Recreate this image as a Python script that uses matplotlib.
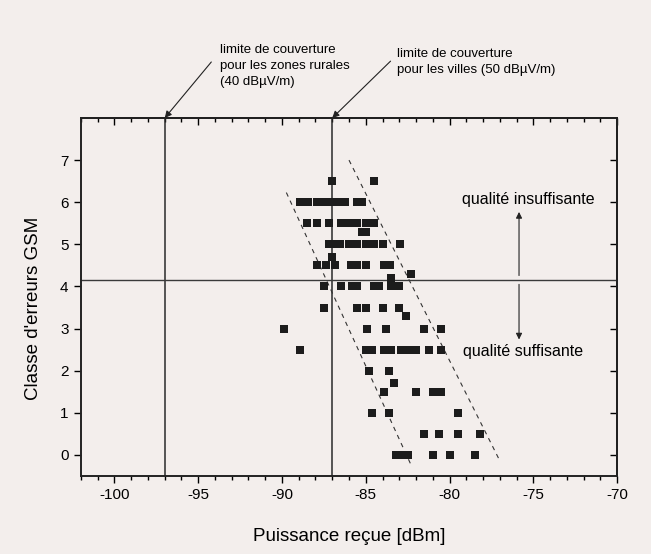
import numpy as np
import matplotlib
matplotlib.use("Agg")
import matplotlib.pyplot as plt
from matplotlib.ticker import MultipleLocator

plt.rcParams['font.family'] = ['Liberation Sans', 'DejaVu Sans']
plt.rcParams['axes.unicode_minus'] = False

# ==========================================
# données (une ligne = une classe d'erreurs)
# ==========================================
row_classe = [6.5, 6.0, 5.5, 5.3, 5.0, 4.7, 4.5, 4.3, 4.2, 4.0, 3.5, 3.3,
              3.0, 2.5, 2.0, 1.7, 1.5, 1.0, 0.5, 0.0]
row_puissance = [
    [-87.0, -84.5],
    [-88.9, -88.45, -87.9, -87.48, -87.06, -86.65, -86.23, -85.5, -85.2],
    [-88.5, -87.9, -87.2, -86.5, -86.0, -85.5, -85.0, -84.5],
    [-85.2, -85.0],
    [-87.2, -86.9, -86.55, -86.0, -85.5, -85.0, -84.5, -84.0, -82.95],
    [-87.0],
    [-87.9, -87.4, -86.85, -85.9, -85.5, -85.0, -83.9, -83.55],
    [-82.3],
    [-83.5],
    [-87.5, -86.5, -85.8, -85.5, -84.5, -84.2, -83.5, -83.0],
    [-87.5, -85.5, -85.0, -84.0, -83.0],
    [-82.6],
    [-89.9, -84.9, -83.8, -81.5, -80.5],
    [-88.9, -85.0, -84.6, -83.9, -83.5, -82.9, -82.5, -82.0, -81.2, -80.5],
    [-84.8, -83.6],
    [-83.3],
    [-83.9, -82.0, -81.0, -80.5],
    [-84.6, -83.6, -79.5],
    [-81.5, -80.6, -79.5, -78.2],
    [-83.2, -82.85, -82.5, -81.0, -80.0, -78.5],
]

# limites de couverture et seuil de qualité
limite_rurale = -97
limite_villes = -87
seuil_qualite = 4.15

# bandes en pointillés (début, fin)
bande_gauche_x = [-89.74, -82.27]
bande_gauche_y = [6.23, -0.26]
bande_droite_x = [-86.0, -76.97]
bande_droite_y = [7.0, -0.16]

x_pts = np.concatenate([np.array(xs) for xs in row_puissance])
y_pts = np.concatenate([np.full(len(xs), c) for xs, c in zip(row_puissance, row_classe)])

# ==========================================
# figure
# ==========================================
bg = '#f3eeec'
fig = plt.figure(figsize=(6.51, 5.54), dpi=100, facecolor=bg)
ax = fig.add_axes([0.1244, 0.1408, 0.8234, 0.6462])
ax.set_facecolor(bg)

ax.set_xlim(-102, -70)
ax.set_ylim(-0.5, 8)

ax.axvline(limite_rurale, color='#2a2a2a', lw=1.1)
ax.axvline(limite_villes, color='#2a2a2a', lw=1.1)
ax.axhline(seuil_qualite, color='#3a3a3a', lw=1.0)

ax.plot(bande_gauche_x, bande_gauche_y, color='#333333', lw=0.8, dashes=(4, 4))
ax.plot(bande_droite_x, bande_droite_y, color='#333333', lw=0.8, dashes=(4, 4))

ax.plot(x_pts, y_pts, 's', color='#1c1c1c', markersize=5.3, markeredgewidth=0)

# axes et graduations
for sp in ax.spines.values():
    sp.set_linewidth(1.4)
    sp.set_color('#222222')

ax.xaxis.set_major_locator(MultipleLocator(5))
ax.xaxis.set_minor_locator(MultipleLocator(1))
ax.set_yticks(range(0, 8))
ax.tick_params(axis='x', which='major', direction='out', length=5, width=1, labelsize=11, pad=4)
ax.tick_params(axis='x', which='minor', direction='out', length=3, width=1)
ax.tick_params(axis='y', which='major', direction='out', length=5, width=1, labelsize=11, pad=4)

top = ax.secondary_xaxis('top')
top.xaxis.set_major_locator(MultipleLocator(5))
top.xaxis.set_minor_locator(MultipleLocator(1))
top.tick_params(which='major', direction='in', length=5, width=1, labeltop=False)
top.tick_params(which='minor', direction='in', length=3, width=1)
top.spines['top'].set_linewidth(1.4)

right = ax.secondary_yaxis('right')
right.set_yticks(range(0, 8))
right.tick_params(direction='in', length=5, width=1, labelright=False)
right.spines['right'].set_linewidth(1.4)

ax.set_xlabel('Puissance reçue [dBm]', fontsize=13.5)
ax.set_ylabel("Classe d'erreurs GSM", fontsize=13.5)
ax.xaxis.set_label_coords(0.5, -0.145)
ax.yaxis.set_label_coords(-0.073, 0.469)

# ==========================================
# annotations
# ==========================================
fleche = dict(arrowstyle='-|>', lw=0.8, color='#222222',
              mutation_scale=10, shrinkA=0, shrinkB=0)

ax.text(-93.68, 9.23, 'limite de couverture\npour les zones rurales\n(40 dBµV/m)',
        fontsize=9.5, ha='left', va='center', linespacing=1.45, clip_on=False)
ax.annotate('', xy=(limite_rurale, 8), xytext=(-94.22, 9.33),
            annotation_clip=False, arrowprops=fleche)
ax.text(-83.13, 9.34, 'limite de couverture\npour les villes (50 dBµV/m)',
        fontsize=9.5, ha='left', va='center', linespacing=1.45, clip_on=False)
ax.annotate('', xy=(limite_villes, 8), xytext=(-83.52, 9.35),
            annotation_clip=False, arrowprops=fleche)

ax.text(-75.3, 6.07, 'qualité insuffisante', fontsize=11.5, ha='center', va='center')
ax.text(-75.58, 2.46, 'qualité suffisante', fontsize=11.5, ha='center', va='center')
ax.annotate('', xy=(-75.85, 5.77), xytext=(-75.85, 4.26),
            arrowprops=dict(fleche, mutation_scale=9))
ax.annotate('', xy=(-75.85, 2.74), xytext=(-75.85, 4.05),
            arrowprops=dict(fleche, mutation_scale=9))

fig.savefig('out.png', dpi=100, facecolor=bg)
